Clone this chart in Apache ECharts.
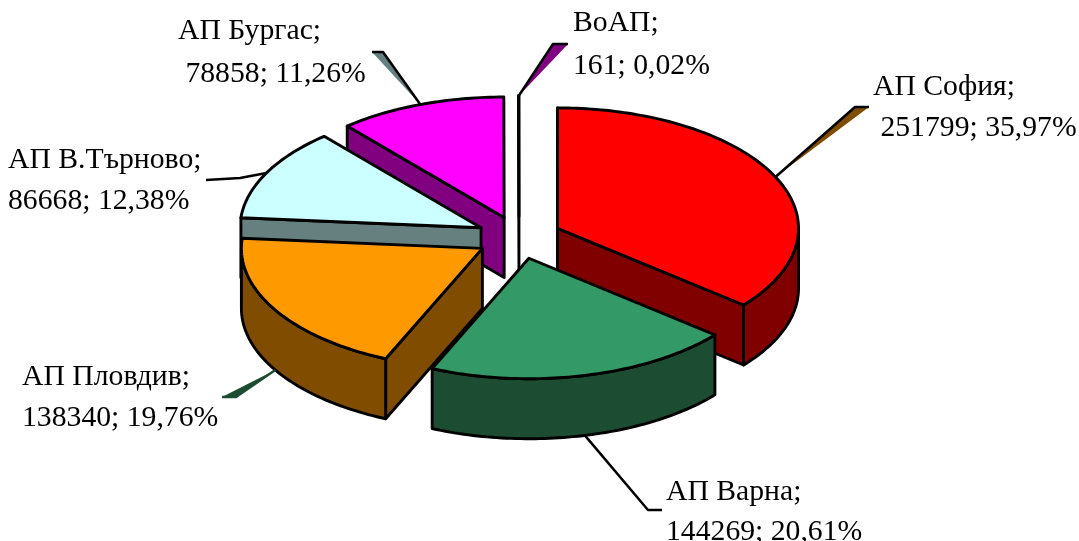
<!DOCTYPE html>
<html><head><meta charset="utf-8">
<style>html,body{margin:0;padding:0;background:#fff}#c{width:1079px;height:541px}</style>
<script src="https://cdn.jsdelivr.net/npm/echarts@6/dist/echarts.min.js"></script>
</head><body><div id="c"></div>
<script>
// Data, clockwise from 12 o'clock
const categories = ['АП София','АП Варна','АП Пловдив','АП В.Търново','АП Бургас','ВоАП'];
const values = [251799,144269,138340,86668,78858,161];
// Style and layout
const topColors = ['#ff0000','#339966','#ff9900','#ccffff','#ff00ff','#800080'];
const sideColors = ['#800000','#1c4d33','#804c00','#668080','#800080','#400040'];
const paintOrder = [2,5,4,3,1,0];
const labelLeft = [873,666,22,8,178,573];
const labelMiddle = [108,512,398,181,53,45];
const labelLineHeights = [41,40,41,41,43,43];
const valueLeads = [' ','','','',' ',''];
const elbows = [[855,107],[648,510],[236,397],[240,178],[383,52],[553,44]];
const leaderEnds = [[869,107],[662,510],[222,397],[206,180],[372,52],[568,44]];
const leaderFills = ['#804c00',null,'#1c4d33',null,'#668080','#800080'];
const leaderStrokes = ['#000','#000','#1c4d33','#000','#000','#000'];

const CX = 519, CY = 237.5, RX = 241, TILT = 0.5, DEPTH = 60, EXPLODE = 42.6;
const total = values.reduce((a,b)=>a+b,0);
const spans = []; let acc = 0;
values.forEach(v=>{ const a = acc/total*2*Math.PI; acc += v; spans.push([a, acc/total*2*Math.PI]); });
const FONT = '29.7px "Liberation Serif"';

function apex(i){ const m=(spans[i][0]+spans[i][1])/2;
  return [CX+EXPLODE*Math.sin(m), CY-EXPLODE*TILT*Math.cos(m)]; }
function rim(c,t,d){ return [c[0]+RX*Math.sin(t), c[1]-RX*TILT*Math.cos(t)+(d||0)]; }
function arc(c,a,b,d){ const n=Math.max(2,Math.ceil(Math.abs(b-a)/0.02)), p=[];
  for(let k=0;k<=n;k++) p.push(rim(c,a+(b-a)*k/n,d)); return p; }
const black = {stroke:'#000',lineWidth:2.9,lineJoin:'round'};

function renderItem(params, api){
  const i = params.dataIndex, [s,e] = spans[i], c = apex(i), base = paintOrder[i]*10;
  const kids = [];
  const poly = (pts,fill,z)=>kids.push({type:'polygon',z2:base+z,shape:{points:pts},
    style:Object.assign({fill},black),silent:true});
  const cb = [c[0],c[1]+DEPTH];
  if(Math.sin(s)<=0){ const r=rim(c,s); poly([c,r,[r[0],r[1]+DEPTH],cb],sideColors[i],1); }
  if(Math.sin(e)>=0){ const r=rim(c,e); poly([c,r,[r[0],r[1]+DEPTH],cb],sideColors[i],1); }
  const a0=Math.max(s,Math.PI/2), a1=Math.min(e,Math.PI*1.5);
  if(a1>a0){ poly(arc(c,a0,a1,0).concat(arc(c,a1,a0,DEPTH)),sideColors[i],2); }
  poly([c].concat(arc(c,s,e,0)),topColors[i],3);

  // Leader from the slice's mid angle to the label
  const m=(s+e)/2, wall=m>Math.PI/2 && m<Math.PI*1.5;
  const st = rim(c,m,wall?DEPTH:0), z=200;
  if(leaderFills[i]) kids.push({type:'polygon',z2:z,silent:true,shape:{points:[st,elbows[i],leaderEnds[i]]},style:{fill:leaderFills[i]}});
  kids.push({type:'polyline',z2:z+1,silent:true,shape:{points:[st,elbows[i],leaderEnds[i]]},
    style:{fill:null,stroke:leaderStrokes[i],lineWidth:2.5,lineJoin:'round'}});

  const pct=(api.value(0)/total*100).toFixed(2).replace('.',',');
  kids.push({type:'text',z2:z+2,silent:true,x:labelLeft[i],y:labelMiddle[i],
    style:{text:categories[i]+';\n'+valueLeads[i]+api.value(0)+'; '+pct+'%',
      font:FONT,fill:'#000',lineHeight:labelLineHeights[i],align:'left',verticalAlign:'middle'}});
  return {type:'group',children:kids};
}

const chart = echarts.init(document.getElementById('c'),null,{renderer:'canvas'});
chart.setOption({
  backgroundColor:'#fff',animation:false,tooltip:{show:false},
  series:[{type:'custom',coordinateSystem:'none',silent:true,clip:false,renderItem,
    data:values.map((v,i)=>({name:categories[i],value:[v]}))}]
});
</script></body></html>
